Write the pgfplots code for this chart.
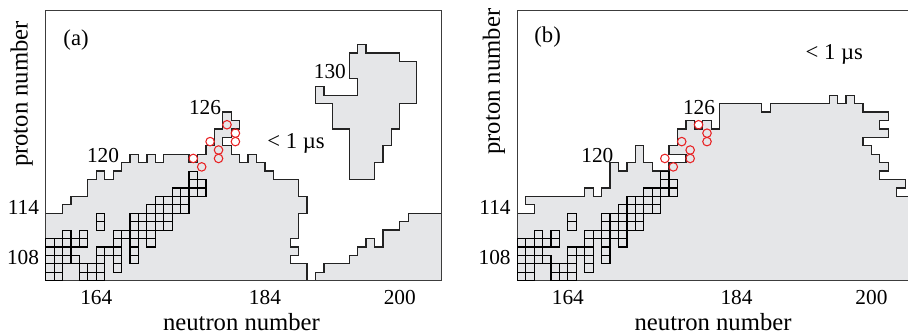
\documentclass[border=0pt]{standalone}
\usepackage{fontspec}
\setmainfont{Liberation Serif}
\usepackage{pgfplots}
\usepackage{pgfplotstable}
\pgfplotsset{compat=1.18}

\definecolor{regionfill}{RGB}{229,230,232}
\definecolor{regionedge}{RGB}{35,35,35}
\definecolor{framecol}{RGB}{60,60,60}
\definecolor{newcirc}{RGB}{232,34,36}

% known nuclides (cell centres N, Z)
\pgfplotstableread{
N Z
158.5 105.5
159.5 105.5
162.5 105.5
163.5 105.5
164.5 105.5
158.5 106.5
159.5 106.5
162.5 106.5
163.5 106.5
164.5 106.5
166.5 106.5
158.5 107.5
159.5 107.5
160.5 107.5
161.5 107.5
164.5 107.5
166.5 107.5
168.5 107.5
158.5 108.5
159.5 108.5
160.5 108.5
164.5 108.5
165.5 108.5
166.5 108.5
168.5 108.5
158.5 109.5
159.5 109.5
160.5 109.5
161.5 109.5
162.5 109.5
166.5 109.5
168.5 109.5
170.5 109.5
160.5 110.5
162.5 110.5
166.5 110.5
167.5 110.5
168.5 110.5
169.5 110.5
170.5 110.5
164.5 111.5
168.5 111.5
169.5 111.5
170.5 111.5
171.5 111.5
172.5 111.5
164.5 112.5
168.5 112.5
169.5 112.5
170.5 112.5
171.5 112.5
172.5 112.5
170.5 113.5
171.5 113.5
172.5 113.5
173.5 113.5
174.5 113.5
171.5 114.5
172.5 114.5
173.5 114.5
174.5 114.5
173.5 115.5
174.5 115.5
175.5 115.5
176.5 115.5
175.5 116.5
176.5 116.5
175.5 117.5
}\knowntable

% new isotopes
\pgfplotstableread{
N Z
179.5 123.5
180.5 122.5
180.5 121.5
177.5 121.5
178.5 120.5
178.5 119.5
175.5 119.5
176.5 118.5
}\newtable

\tikzset{tag/.style={font=\fontsize{16}{19}\selectfont, inner sep=0pt}}

\pgfplotsset{
  chart/.style={
    scale only axis, width=297.2pt, height=202.3pt,
    anchor=south west,
    xmin=158, xmax=205, ymin=105, ymax=137,
    xtick={164,184,200}, xticklabels={164,184,200},
    ytick={108,114}, yticklabels={108,114},
    major tick length=0pt,
    /pgf/number format/assume math mode=true,
    tick label style={font=\fontsize{16}{19}\selectfont, inner sep=0pt},
    xticklabel style={anchor=base, yshift=-18.2pt},
    yticklabel style={anchor=east, xshift=-4.8pt, yshift=-1.9pt},
    axis line style={draw=framecol, line width=0.75pt},
    axis on top,
    xlabel={neutron number}, ylabel={proton number},
    label style={font=\fontsize{18.5}{22}\selectfont},
    xlabel style={at={(axis description cs:0.494,0)}, anchor=base, yshift=-37pt},
  },
  region/.style={fill=regionfill, draw=regionedge, line width=0.95pt, line join=miter},
  known/.style={only marks, mark=square, mark size=3.1617pt,
    mark options={draw=black, line width=0.9pt}},
  newiso/.style={only marks, mark=o, mark size=3.2pt,
    mark options={draw=newcirc, line width=0.8pt}},
}

\begin{document}
\begin{tikzpicture}
% ---------- panel (a) ----------
\begin{axis}[chart, at={(34.28pt,39.98pt)},
  ylabel style={at={(axis description cs:-0.0606,0.692)}, anchor=center}]
\addplot[region] coordinates {
(158,105) (158,113) (160,113) (160,114) (161,114) (161,115) (163,115) (163,117)
(164,117) (164,118) (165,118) (165,117) (166,117) (166,118) (167,118) (167,119)
(168,119) (168,120) (169,120) (169,119) (170,119) (170,120) (171,120) (171,119)
(172,119) (172,120) (175,120) (175,119) (176,119) (176,120) (177,120) (177,121)
(178,121) (178,123) (179,123) (179,125) (180,125) (180,124) (181,124) (181,123)
(180,123) (180,122) (179,122) (179,121) (180,121) (180,120) (181,120) (181,119)
(182,119) (182,120) (183,120) (183,119) (184,119) (184,118) (185,118) (185,117)
(188,117) (188,115) (189,115) (189,113) (188,113) (188,110) (187,110) (187,109)
(188,109) (188,108) (187,108) (187,107) (189,107) (189,105)} -- cycle;
\addplot[region] coordinates {
(195,133) (196,133) (196,132) (200,132) (200,131) (202,131) (202,126) (200,126)
(200,123) (199,123) (199,121) (198,121) (198,119) (197,119) (197,117) (194,117)
(194,123) (192,123) (192,126) (190,126) (190,128) (191,128) (191,127) (195,127)
(195,129) (194,129) (194,132) (195,132)} -- cycle;
\addplot[region] coordinates {
(190,105) (190,106) (191,106) (191,107) (194,107) (194,108) (195,108) (195,109)
(196,109) (196,110) (197,110) (197,109) (198,109) (198,111) (200,111) (200,112)
(201,112) (201,113) (205,113) (205,105)} -- cycle;
\addplot[known] table[x=N, y=Z] {\knowntable};
\addplot[newiso] table[x=N, y=Z] {\newtable};
\node[tag, font=\fontsize{17}{20}\selectfont] at (axis cs:161.6,133.6) {(a)};
\node[tag] at (axis cs:164.8,119.8) {120};
\node[tag] at (axis cs:176.9,125.6) {126};
\node[tag] at (axis cs:191.7,129.8) {130};
\node[tag, font=\fontsize{17}{20}\selectfont] at (axis cs:187.7,121.3) {< 1 µs};
\end{axis}
% ---------- panel (b) ----------
\begin{axis}[chart, at={(387.98pt,39.98pt)},
  ylabel style={at={(axis description cs:-0.059,0.738)}, anchor=center}]
\addplot[region] coordinates {
(158,105) (158,113) (160,113) (160,114) (159,114) (159,115) (166,115) (166,116)
(167,116) (167,115) (168,115) (168,116) (169,116) (169,119) (170,119) (170,118)
(171,118) (171,119) (172,119) (172,121) (173,121) (173,119) (174,119) (174,118)
(176,118) (176,119) (178,119) (178,120) (176,120) (176,121) (177,121) (177,123)
(178,123) (178,124) (179,124) (179,123) (180,123) (180,124) (181,124) (181,123)
(182,123) (182,126) (187,126) (187,125) (188,125) (188,126) (195,126) (195,127)
(196,127) (196,126) (197,126) (197,127) (198,127) (198,126) (199,126) (199,125)
(202,125) (202,124) (201,124) (201,123) (202,123) (202,122) (199,122) (199,121)
(200,121) (200,120) (201,120) (201,119) (202,119) (202,118) (201,118) (201,117)
(204,117) (204,116) (203,116) (203,115) (205,115) (205,105)} -- cycle;
\addplot[known] table[x=N, y=Z] {\knowntable};
\addplot[newiso] table[x=N, y=Z] {\newtable};
\node[tag, font=\fontsize{17}{20}\selectfont] at (axis cs:161.6,133.9) {(b)};
\node[tag] at (axis cs:167.5,119.9) {120};
\node[tag] at (axis cs:179.55,125.6) {126};
\node[tag, font=\fontsize{17}{20}\selectfont] at (axis cs:195.6,131.9) {< 1 µs};
\end{axis}
\pgfresetboundingbox
\path[use as bounding box] (0,0) rectangle (681pt,250.5pt);
\end{tikzpicture}
\end{document}
